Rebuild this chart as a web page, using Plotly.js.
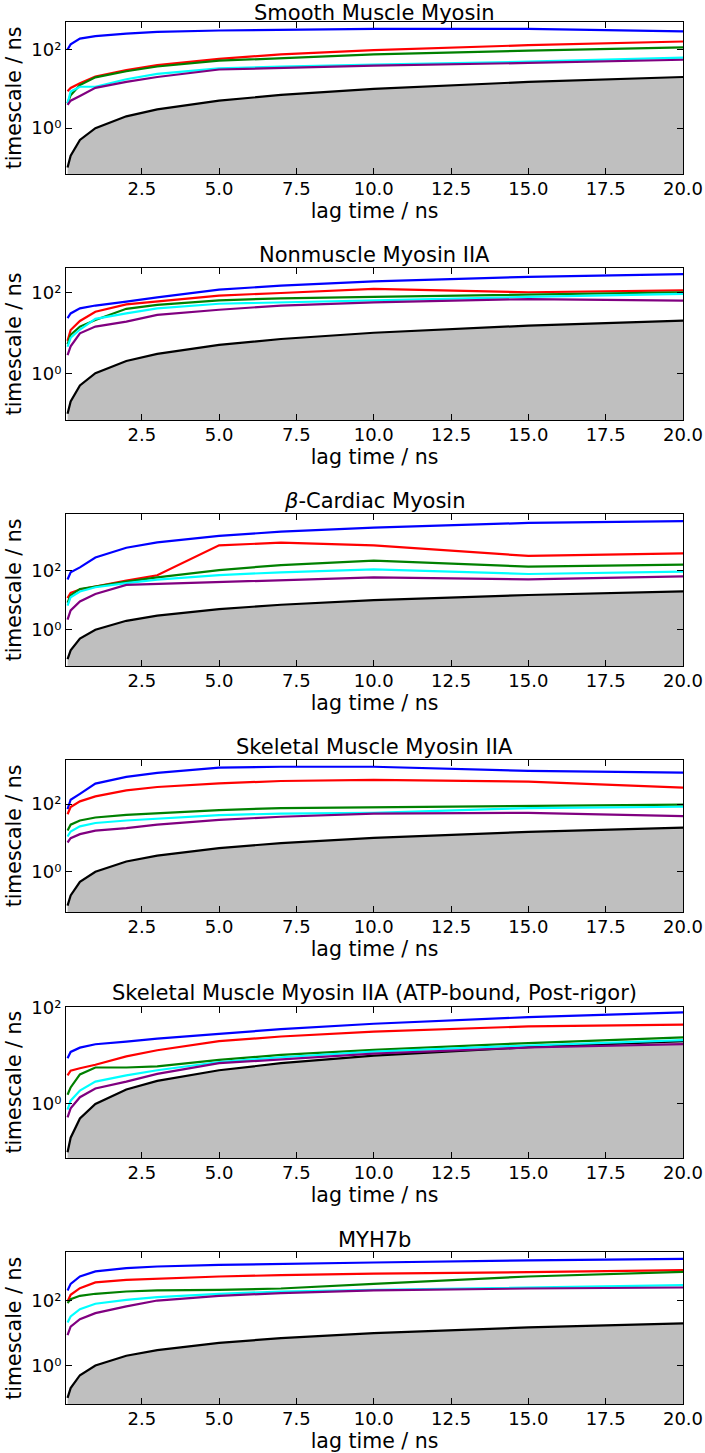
<!DOCTYPE html>
<html>
<head>
<meta charset="utf-8">
<script src="https://cdn.plot.ly/plotly-3.0.1.min.js"></script>
<style>html,body{margin:0;padding:0;background:#fff;}#chart{width:705px;height:1453px;}</style>
</head>
<body>
<div id="chart"></div>
<script>
// lag times (ns)
const lagTimes = [0.1, 0.2, 0.5, 1, 2, 3, 5, 7, 10, 15, 20];

// panel titles
const panelTitles = [
  "Smooth Muscle Myosin",
  "Nonmuscle Myosin IIA",
  "<i>β</i>-Cardiac Myosin",
  "Skeletal Muscle Myosin IIA",
  "Skeletal Muscle Myosin IIA (ATP-bound, Post-rigor)",
  "MYH7b"
];

// implied timescales (ns), per panel, per process
const smoothBlue   = [100, 135, 190, 220, 255, 280, 305, 320, 335, 335, 288];
const smoothRed    = [8.7, 10.5, 13.8, 20.4, 30, 40, 58, 75, 96, 129, 160];
const smoothGreen  = [4.3, 6.9, 12.5, 19.6, 28, 37, 52, 61, 75, 94, 114];
const smoothCyan   = [4.3, 8.5, 11.3, 11.3, 17.5, 24, 33, 37, 41.5, 49, 62];
const smoothPurple = [3.9, 5.0, 6.6, 10.6, 15, 20, 31, 34, 39, 45.6, 55];

const nonmuscleBlue   = [23, 30, 40, 47, 59, 75, 116, 146, 187, 240, 280];
const nonmuscleRed    = [6.3, 11.7, 19.5, 33, 50, 59, 83, 96, 121, 100, 112];
const nonmuscleGreen  = [5.2, 8.9, 14.2, 20.7, 39, 49, 63, 71, 77, 86, 100];
const nonmuscleCyan   = [4.5, 7.5, 12, 22, 30, 40, 52, 56.5, 63, 77, 91];
const nonmusclePurple = [2.8, 4.6, 9.7, 14.2, 18.8, 27.5, 37, 47, 56.5, 68, 62];

const cardiacBlue   = [50, 88, 129, 280, 600, 905, 1500, 2100, 2870, 4150, 4800];
const cardiacRed    = [11.7, 17.7, 23, 29.5, 46, 70, 720, 890, 720, 315, 385];
const cardiacGreen  = [8.2, 14.5, 24, 29.5, 42.5, 59, 105, 155, 218, 137, 160];
const cardiacCyan   = [6.6, 12.6, 19.6, 27.5, 38, 50, 71, 88, 111, 77, 93];
const cardiacPurple = [2.2, 4.5, 9.1, 16.3, 33, 35.6, 42.4, 48, 59, 51, 64];

const skeletalBlue   = [71, 134, 200, 400, 630, 830, 1180, 1260, 1260, 950, 845];
const skeletalRed    = [50, 81, 120, 168, 253, 318, 408, 478, 513, 457, 303];
const skeletalGreen  = [16.5, 24.5, 32.6, 40, 48, 54, 66, 76, 80, 85, 96];
const skeletalCyan   = [11, 15.4, 21.8, 27.5, 32.6, 37, 47, 52, 55, 76, 83];
const skeletalPurple = [7.3, 9.8, 12.9, 16.3, 19.5, 24.5, 34, 42, 52, 55, 44];

const atpBlue   = [8.9, 12, 14.7, 17.3, 19.6, 22.5, 28.4, 35.5, 46, 63, 79];
const atpRed    = [3.9, 4.9, 5.5, 6.5, 9.7, 13, 20, 25, 31.6, 40.5, 44];
const atpGreen  = [1.55, 2.2, 4.1, 5.7, 5.7, 6, 8.2, 10.4, 13.2, 18.3, 24];
const atpCyan   = [0.76, 1.17, 1.9, 2.9, 3.9, 5, 7.4, 9.3, 12.2, 16.3, 21];
const atpPurple = [0.53, 0.81, 1.38, 2.1, 2.9, 4.2, 7, 8.5, 11, 14.8, 17.4];

const myh7bBlue   = [209, 335, 565, 810, 1020, 1150, 1290, 1390, 1530, 1770, 1990];
const myh7bRed    = [95, 153, 246, 370, 446, 490, 565, 620, 690, 770, 890];
const myh7bGreen  = [85, 113, 143, 165, 194, 209, 219, 240, 335, 565, 790];
const myh7bCyan   = [21.4, 33, 55, 81, 107, 130, 164, 194, 219, 265, 305];
const myh7bPurple = [8.7, 16, 27, 41.5, 67, 102, 143, 173, 209, 240, 258];

const panelSeries = [
  [smoothBlue, smoothRed, smoothGreen, smoothCyan, smoothPurple],
  [nonmuscleBlue, nonmuscleRed, nonmuscleGreen, nonmuscleCyan, nonmusclePurple],
  [cardiacBlue, cardiacRed, cardiacGreen, cardiacCyan, cardiacPurple],
  [skeletalBlue, skeletalRed, skeletalGreen, skeletalCyan, skeletalPurple],
  [atpBlue, atpRed, atpGreen, atpCyan, atpPurple],
  [myh7bBlue, myh7bRed, myh7bGreen, myh7bCyan, myh7bPurple]
];

// tick labels
const xTickVals = [2.5, 5, 7.5, 10, 12.5, 15, 17.5, 20];
const xTickText = ["2.5", "5.0", "7.5", "10.0", "12.5", "15.0", "17.5", "20.0"];
const yTickVals = [1, 100];
const yTickText = ["10⁰", "10²"];

// ---- styling / layout (not data) ----
const seriesColors = ["#0000ff", "#ff0000", "#008000", "#00ffff", "#800080"];
const W = 705, H = 1453;
const plotLeft = 66, plotRight = 683;
const plotTops    = [22, 268, 514, 760, 1006.5, 1252.3];
const plotBottoms = [174, 420, 666, 912, 1158, 1404.3];
const titleCenters = [13.5, 255, 500.5, 746.5, 993, 1239.5];
const yRanges = [[-1.166, 2.70], [-1.157, 2.60], [-1.23, 3.92], [-1.19, 3.30], [-1.12, 2.02], [-1.20, 3.50]];
const FONT = "DejaVu Sans, Bitstream Vera Sans, sans-serif";

const traces = [];
const layout = {
  width: W, height: H,
  margin: {l: 0, r: 0, t: 0, b: 0},
  paper_bgcolor: "#ffffff",
  plot_bgcolor: "#ffffff",
  showlegend: false,
  font: {family: FONT, color: "#000", size: 18},
  annotations: []
};

for (let p = 0; p < 6; p++) {
  const sfx = p === 0 ? "" : String(p + 1);
  const xa = "x" + sfx, ya = "y" + sfx;
  // lag time line (y = lag time) with grey region below
  traces.push({
    x: lagTimes, y: lagTimes, xaxis: xa, yaxis: ya,
    type: "scatter", mode: "lines",
    line: {color: "#000000", width: 2.2},
    fill: "tozeroy", fillcolor: "#bfbfbf",
    hoverinfo: "skip"
  });
  panelSeries[p].forEach((vals, k) => {
    traces.push({
      x: lagTimes, y: vals, xaxis: xa, yaxis: ya,
      type: "scatter", mode: "lines",
      line: {color: seriesColors[k], width: 2.2}
    });
  });
  const domY = [1 - plotBottoms[p] / H, 1 - plotTops[p] / H];
  layout["xaxis" + sfx] = {
    domain: [plotLeft / W, plotRight / W],
    anchor: ya,
    range: [0.05, 20],
    tickvals: xTickVals, ticktext: xTickText,
    ticks: "inside", ticklen: 6, tickwidth: 1, tickcolor: "#000",
    ticklabelstandoff: -2,
    mirror: "ticks", showline: true, linecolor: "#000", linewidth: 1,
    showgrid: false, zeroline: false,
    tickfont: {size: 18, family: FONT},
    title: {text: "lag time / ns", font: {size: 20.5, family: FONT}, standoff: 4}
  };
  layout["yaxis" + sfx] = {
    domain: domY,
    anchor: xa,
    type: "log",
    range: yRanges[p],
    tickvals: yTickVals, ticktext: yTickText,
    ticks: "inside", ticklen: 6, tickwidth: 1, tickcolor: "#000",
    mirror: "ticks", showline: true, linecolor: "#000", linewidth: 1,
    showgrid: false, zeroline: false,
    tickfont: {size: 18, family: FONT},
    title: {text: "timescale / ns", font: {size: 20.5, family: FONT}, standoff: 4}
  };
  layout.annotations.push({
    text: panelTitles[p],
    xref: "paper", yref: "paper",
    x: ((plotLeft + plotRight) / 2) / W,
    y: 1 - titleCenters[p] / H,
    xanchor: "center", yanchor: "middle",
    borderpad: 0,
    showarrow: false,
    font: {size: 21, family: FONT, color: "#000"}
  });
}

Plotly.newPlot("chart", traces, layout, {staticPlot: true, displayModeBar: false});
</script>
</body>
</html>
